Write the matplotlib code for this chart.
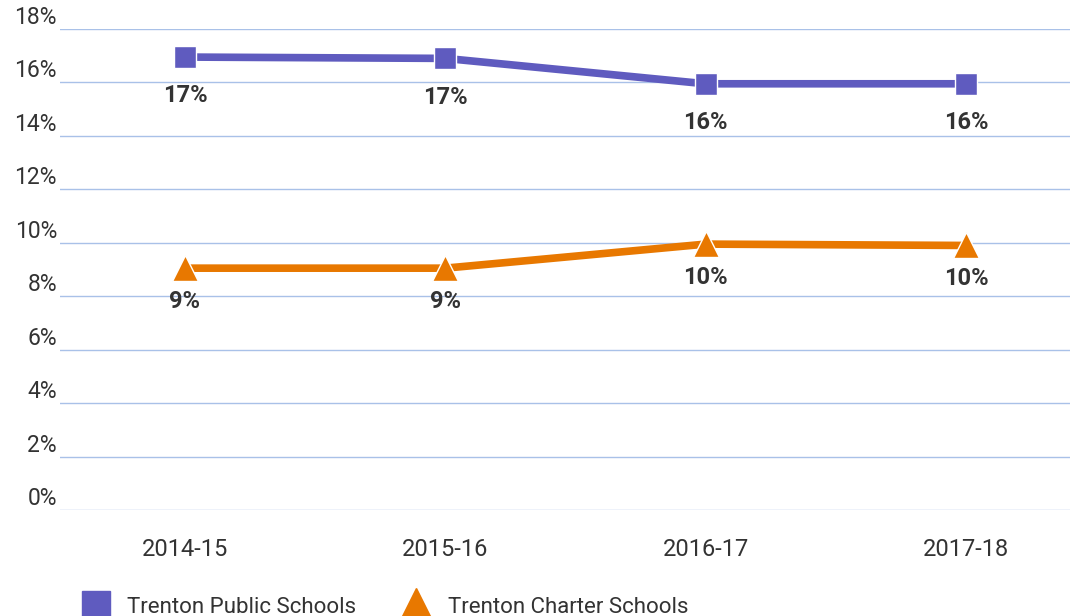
import matplotlib
matplotlib.use('Agg')
import matplotlib.pyplot as plt
from matplotlib.lines import Line2D

plt.rcParams['font.family'] = ['Roboto', 'DejaVu Sans']

years = ['2014-15', '2015-16', '2016-17', '2017-18']
public = [16.95, 16.9, 15.95, 15.95]
charter = [9.05, 9.05, 9.95, 9.9]
public_labels = ['17%', '17%', '16%', '16%']
charter_labels = ['9%', '9%', '10%', '10%']
yticks = [0, 2, 4, 6, 8, 10, 12, 14, 16, 18]

purple = '#5F5BBF'
orange = '#E87800'
text_col = '#333333'

fig = plt.figure(figsize=(10.82, 6.16), dpi=100)
ax = fig.add_axes([60/1082, 106/616, 1010/1082, 481/616])

x = list(range(len(years)))
ax.plot(x, public, color=purple, lw=5.5, marker='s', ms=16,
        mec='white', mew=1, zorder=3)
ax.plot(x, charter, color=orange, lw=5.5, marker='^', ms=19,
        mec='white', mew=1, zorder=3)

for i in x:
    ax.annotate(public_labels[i], (i, public[i]), xytext=(0, -28),
                textcoords='offset points', ha='center', va='center',
                fontsize=17, fontweight='bold', color=text_col)
    ax.annotate(charter_labels[i], (i, charter[i]), xytext=(0, -24),
                textcoords='offset points', ha='center', va='center',
                fontsize=17, fontweight='bold', color=text_col)

ax.set_xlim(-0.48, 3.4)
ax.set_ylim(0, 18)
for v in yticks:
    ax.axhline(v, color='#A9C1E8', lw=1, zorder=1)
    ax.text(-0.003, v, '%d%%' % v, transform=ax.get_yaxis_transform(),
            ha='right', va='bottom', fontsize=16.5, color=text_col)
ax.set_yticks([])
ax.set_xticks(x)
ax.set_xticklabels(years, fontsize=17, color=text_col)
ax.tick_params(axis='x', length=0, pad=20)
for s in ax.spines.values():
    s.set_visible(False)

handles = [Line2D([], [], color=purple, marker='s', ls='none', ms=20),
           Line2D([], [], color=orange, marker='^', ls='none', ms=24)]
fig.legend(handles, ['Trenton Public Schools', 'Trenton Charter Schools'],
           loc='lower left', bbox_to_anchor=(54/1082, -0.035), ncol=2,
           frameon=False, fontsize=16, labelcolor=text_col,
           handletextpad=0.4, columnspacing=1.7)

fig.savefig('out.png', dpi=100)
